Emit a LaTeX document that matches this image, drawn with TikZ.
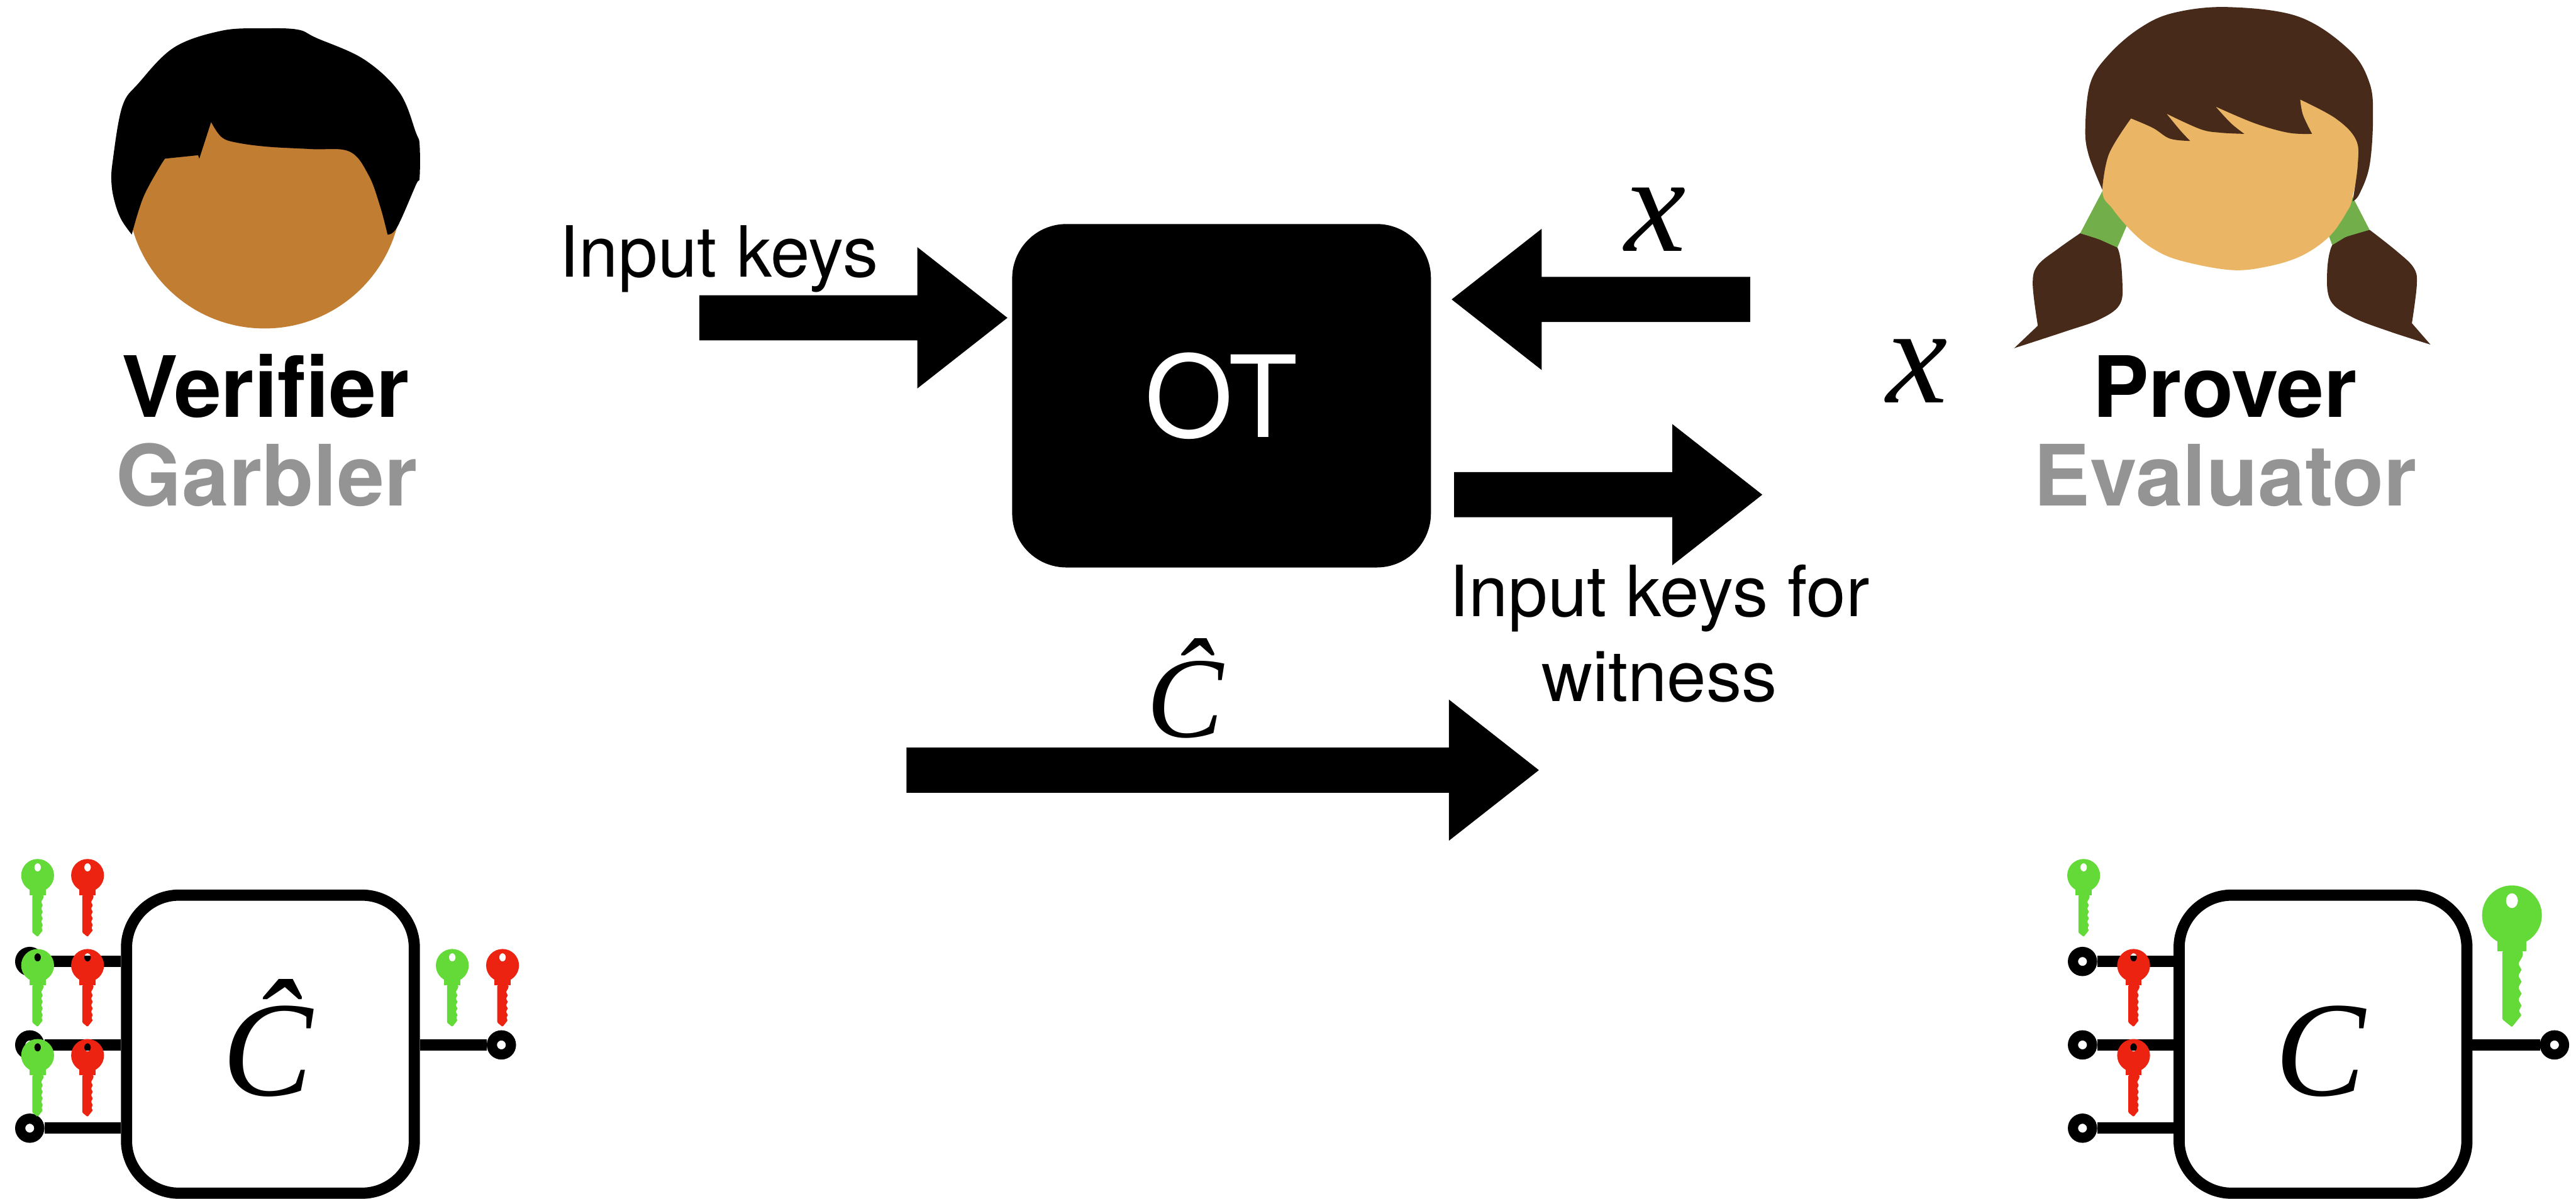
\documentclass[tikz,border=0pt]{standalone}
\usepackage{fontspec}
\setmainfont{TeX Gyre Heros}
\newfontfamily\tmsfont{Liberation Serif}
\usetikzlibrary{calc}

\definecolor{skinV}{RGB}{193,125,50}
\definecolor{skinP}{RGB}{234,181,101}
\definecolor{hairP}{RGB}{71,42,26}
\definecolor{band}{RGB}{114,175,75}
\definecolor{keyG}{RGB}{99,218,56}
\definecolor{keyR}{RGB}{236,35,17}
\definecolor{roleGray}{RGB}{148,148,148}

\tikzset{
  lbl/.style={inner sep=0pt, font=\fontsize{43}{51.6}\selectfont},
  who/.style={inner sep=0pt, font=\fontsize{51.5}{60}\selectfont\bfseries},
  var/.style={inner sep=0pt, font=\tmsfont\itshape\fontsize{84}{90}\selectfont},
  chat/.style={inner sep=0pt, font=\tmsfont\itshape\fontsize{70}{80}\selectfont},
  boxchat/.style={inner sep=0pt, font=\tmsfont\itshape\fontsize{82.5}{90}\selectfont},
  otbox/.style={fill=black, rounded corners=33pt, inner sep=0pt, text=white,
    minimum width=254.9pt, minimum height=209.1pt, font=\fontsize{69}{80}\selectfont},
  circbox/.style={draw=black, fill=white, line width=6.8pt, rounded corners=32pt,
    inner sep=0pt, minimum width=175.2pt, minimum height=181.5pt},
  terminal/.style={circle, draw=black, fill=white, line width=6.2pt,
    minimum size=11.6pt, inner sep=0pt},
  wire/.style={line width=6.8pt},
  % thick block arrow running from the pic origin to (#1,0)
  blockarrow/.pic={
    \fill (0,-13.75) -- ({#1-54.8},-13.75) -- ({#1-54.8},-43) -- (#1,0)
      -- ({#1-54.8},43) -- ({#1-54.8},13.75) -- (0,13.75) -- cycle;
  },
  % a key hanging from its round bow, bow centre at the origin
  keyglyph/.pic={
    \fill[even odd rule] (0,0) ellipse [x radius=10, y radius=10]
      (0,-4.9) ellipse [x radius=2, y radius=2.5];
    \fill (-4.9,8.6) rectangle (4.9,12.1);
    \fill[rounded corners=0.5pt] (-3.2,12) -- (3.6,12) -- (3.6,13.6) -- (2.1,16.2)
      -- (3.2,18.2) -- (2.1,20.2) -- (3.2,22.2) -- (2.1,24.2) -- (3.2,26.2)
      -- (2.1,28.2) -- (3.2,30.2) -- (2.3,32) -- (3.2,33.4) -- (0,37.4)
      -- (-3.2,34.8) -- cycle;
  }
}

\begin{document}
\begin{tikzpicture}[x=1pt,y=-1pt]
\useasboundingbox (0,0) rectangle (1568,730);

% ---------- verifier head ----------
\fill[skinV] (161,116.5) circle (83.5);
\fill[black] plot[smooth, tension=0.6] coordinates {(80.2,142.8) (74,134) (70.1,124)
    (67.9,112) (68.6,98.1) (74.4,64.9) (84.5,50.5) (106.1,28.8) (135,18.7) (160,17.3)
    (181.1,18) (192.6,23.1) (221.5,36.1) (243.1,56.2) (253.2,80.8) (255.4,88)
    (255.4,108) (253.2,112.5) (241.7,138.4) (235.9,142.8)}
  -- plot[smooth, tension=0.6] coordinates {(235.9,142.8) (231.5,126) (224.4,106.7)
    (212.8,92.3) (190,90.8) (163.8,89.4) (145,87) (135,83.6) (128.5,74.3)}
  -- (121.3,96.6) -- (120.6,94.5) -- (100.4,96.6) -- (98.9,98.8)
  -- plot[smooth, tension=0.6] coordinates {(98.9,98.8) (87.4,119.7) (80.2,142.8)}
  -- cycle;

\node[who, anchor=base] (verifier) at (161.6,254.1) {Verifier};
\node[who, anchor=base, text=roleGray] (garbler) at (162.4,307.8) {Garbler};

% ---------- prover head ----------
% pigtails
\fill[hairP] plot[smooth, tension=0.6] coordinates {(1266.2,142) (1277.5,145.6)
    (1288.8,150.7) (1291.9,173) (1289.9,186) (1277.5,194.7) (1256.9,201.9) (1226,212)}
  -- plot[smooth, tension=0.6] coordinates {(1240.4,198.3) (1237.3,173) (1240.4,161.5)
    (1252.8,151.4) (1266.2,142)} -- cycle;
\fill[hairP] plot[smooth, tension=0.6] coordinates {(1442.3,139.9) (1458.8,152.9)
    (1469.1,162.9) (1471.1,173) (1468.1,196.8)}
  -- (1479.4,209.8)
  -- plot[smooth, tension=0.6] coordinates {(1479.4,209.8) (1454.7,201.9) (1432,193.2)
    (1418.6,183.1) (1416.5,165.8) (1419.6,149.2) (1427.9,144.2) (1442.3,139.9)} -- cycle;
% hair bands
\fill[band] (1282,112) -- (1266.2,142) -- (1277.5,145.6) -- (1288.8,150.7) -- (1296,134) -- cycle;
\fill[band] (1430,116) -- (1442.3,139.9) -- (1427.9,144.2) -- (1419.6,149.2) -- (1414,134) -- cycle;
% face
\fill[skinP] plot[smooth cycle, tension=0.6] coordinates {(1300,40) (1283,80)
    (1279.6,115.4) (1285.8,127) (1298,141.3) (1310.5,151.4) (1327,158.6) (1357.8,164.4)
    (1380.5,162.2) (1401,155.7) (1417.6,144.2) (1428,129.8) (1432,119.7) (1436,90)
    (1425,45) (1360,25)};
% hair with fringe
\fill[hairP] plot[smooth, tension=0.6] coordinates {(1279.6,115.4) (1271.4,94.6)
    (1269.3,77.9) (1272.4,50.5) (1283.7,33.2) (1302.2,17.3) (1322.8,7.9) (1355.8,4.3)
    (1399,10.1) (1429.9,30.3) (1442.3,50.5) (1444.4,72.1) (1442.3,100.9) (1436.1,118.2)
    (1432,122.6)}
  -- plot[smooth, tension=0.6] coordinates {(1432,122.6) (1435.1,100.9) (1434.1,85.1)
    (1421.7,72.1) (1400.1,60.6)}
  -- plot[smooth, tension=0.6] coordinates {(1400.1,60.6) (1401.8,70) (1407.3,81.5)}
  -- plot[smooth, tension=0.6] coordinates {(1407.3,81.5) (1392.8,80.8) (1372.3,75) (1348.6,64.9)}
  -- plot[smooth, tension=0.6] coordinates {(1348.6,64.9) (1357.9,75) (1366.1,81.5)}
  -- plot[smooth, tension=0.6] coordinates {(1366.1,81.5) (1351.7,80.8) (1339.3,78.6) (1318.7,69.2)}
  -- plot[smooth, tension=0.6] coordinates {(1318.7,69.2) (1327,79.3) (1333.1,85.8)}
  -- plot[smooth, tension=0.6] coordinates {(1333.1,85.8) (1320.8,84.4) (1310.5,77.9) (1297.1,72.1)}
  -- plot[smooth, tension=0.6] coordinates {(1297.1,72.1) (1283.7,93.7) (1279.6,115.4)}
  -- cycle;

\node[who, anchor=base] (prover) at (1354.2,254.1) {Prover};
\node[who, anchor=base, text=roleGray] (evaluator) at (1354.5,307.8) {Evaluator};
\node[var, anchor=base] (xP) at (1166.8,245) {x};

% ---------- oblivious transfer ----------
\node[otbox] (ot) at (743.55,240.95) {OT};

\coordinate (ikTail) at (425.7,193.5);
\pic at (ikTail) {blockarrow=187.5};
\node[lbl, anchor=base] (ikLbl) at (437.5,168.5) {Input keys};

\coordinate (xTail) at (1065.3,182.3);
\pic[rotate=180] at (xTail) {blockarrow=181.7};
\node[var, anchor=base] (xLbl) at (1007.5,153) {x};

\coordinate (wTail) at (885.1,301.2);
\pic at (wTail) {blockarrow=187.6};
\node[lbl, anchor=base, align=center] (wLbl) at (1010,427) {Input keys for\\witness};

\coordinate (cTail) at (551.8,468.9);
\pic at (cTail) {blockarrow=384.9};
\node[chat, anchor=base] (cLbl) at (721.5,449) {\^{C}};

% ---------- garbled circuit (verifier side) ----------
\node[circbox] (gc) at (164.6,635.75) {};
\node[boxchat, anchor=base] (gcLbl) at (163,667) {\^{C}};
\node[terminal] (gIn1) at (18.1,585.4) {};
\node[terminal] (gIn2) at (18.1,636.2) {};
\node[terminal] (gIn3) at (18.1,686.9) {};
\node[terminal] (gOut) at (305.2,636.2) {};
\draw[wire] (gIn1) -- (gIn1 -| gc.west);
\draw[wire] (gIn2) -- (gIn2 -| gc.west);
\draw[wire] (gIn3) -- (gIn3 -| gc.west);
\draw[wire] (gc.east |- gOut) -- (gOut);

\pic[keyG] at (22.9,533) {keyglyph};
\pic[keyR] at (53.3,533) {keyglyph};
\pic[keyG] at (22.9,587.8) {keyglyph};
\pic[keyR] at (53.3,587.8) {keyglyph};
\pic[keyG] at (22.9,642.6) {keyglyph};
\pic[keyR] at (53.3,642.6) {keyglyph};
\pic[keyG] at (275.3,587.8) {keyglyph};
\pic[keyR] at (305.9,587.8) {keyglyph};

% ---------- plain circuit (prover side) ----------
\node[circbox] (pc) at (1414,635.75) {};
\node[boxchat, anchor=base] (pcLbl) at (1412.2,667) {C};
\node[terminal] (pIn1) at (1267.6,585.4) {};
\node[terminal] (pIn2) at (1267.6,636.2) {};
\node[terminal] (pIn3) at (1267.6,686.9) {};
\node[terminal] (pOut) at (1554.9,636.2) {};
\draw[wire] (pIn1) -- (pIn1 -| pc.west);
\draw[wire] (pIn2) -- (pIn2 -| pc.west);
\draw[wire] (pIn3) -- (pIn3 -| pc.west);
\draw[wire] (pc.east |- pOut) -- (pOut);

\pic[keyG] at (1268.3,533) {keyglyph};
\pic[keyR] at (1298.7,587.8) {keyglyph};
\pic[keyR] at (1298.7,642.6) {keyglyph};
\pic[keyG, scale=1.82] at (1529,557.3) {keyglyph};
\end{tikzpicture}
\end{document}
